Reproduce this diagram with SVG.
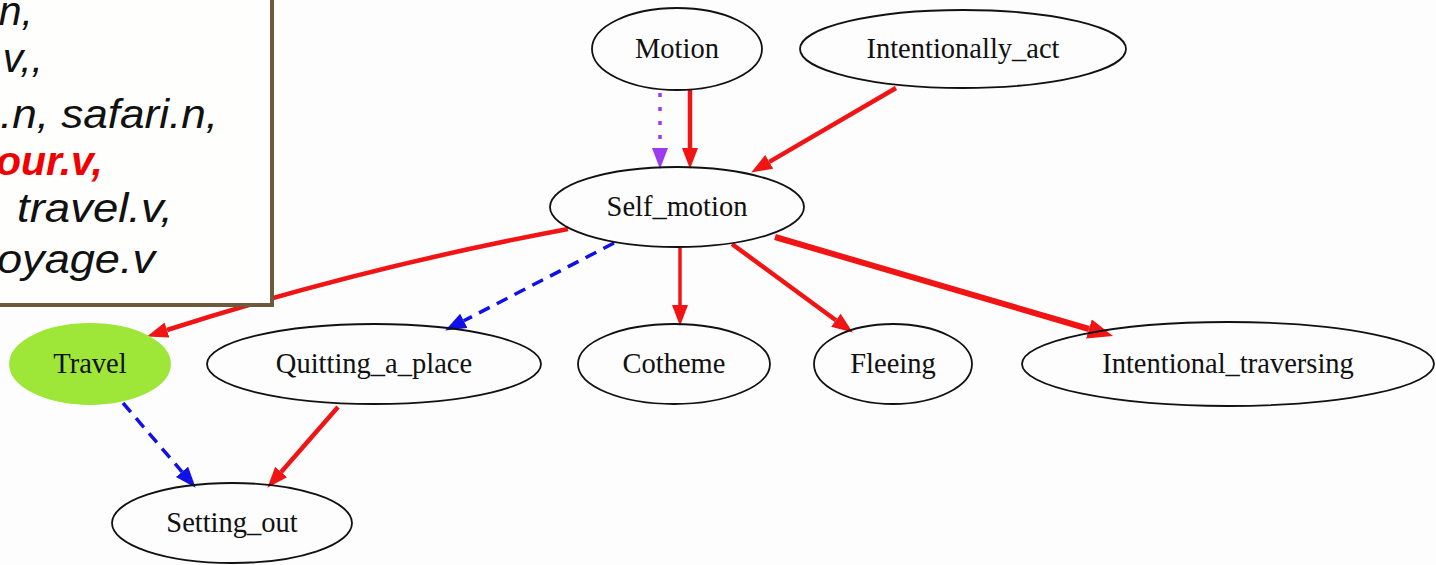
<svg xmlns="http://www.w3.org/2000/svg" width="1436" height="565" viewBox="0 0 1436 565">
  <style>
    .node ellipse { fill: none; stroke: #111; stroke-width: 1.8; }
    .node text { font-family: "Liberation Serif", "Times New Roman", serif; font-size: 28.5px; fill: #111; text-anchor: middle; }
    .red { fill: none; stroke: #f01414; stroke-width: 4.5; }
    .blue { fill: none; stroke: #1010e8; stroke-width: 3.5; stroke-dasharray: 12 8; }
    .purple { fill: none; stroke: #9b3cf0; stroke-width: 3.5; stroke-dasharray: 4 10; }
    .note text { font-family: "Liberation Sans", Arial, sans-serif; font-style: italic; font-size: 41px; fill: #111; text-anchor: end; }
  </style>
  <defs>
    <marker id="ahRed" markerUnits="userSpaceOnUse" markerWidth="24" markerHeight="18" refX="0" refY="8" orient="auto">
      <path d="M0,0 L21,8 L0,16 z" fill="#f01414"/>
    </marker>
    <marker id="ahRedWide" markerUnits="userSpaceOnUse" markerWidth="28" markerHeight="22" refX="0" refY="10" orient="auto">
      <path d="M0,0 L25,10 L0,20 z" fill="#f01414"/>
    </marker>
    <marker id="ahBlue" markerUnits="userSpaceOnUse" markerWidth="24" markerHeight="18" refX="0" refY="8" orient="auto">
      <path d="M0,0 L21,8 L0,16 z" fill="#1010e8"/>
    </marker>
    <marker id="ahPurple" markerUnits="userSpaceOnUse" markerWidth="24" markerHeight="18" refX="0" refY="8" orient="auto">
      <path d="M0,0 L21,8 L0,16 z" fill="#9b3cf0"/>
    </marker>
  </defs>

  <rect width="1436" height="565" fill="#fdfdfd"/>

  <g id="connectors">
    <path class="purple" d="M660,93 L660,148" marker-end="url(#ahPurple)"/>
    <path class="red" d="M690,90 L690,148" marker-end="url(#ahRed)"/>
    <path class="red" d="M896,88 L769.3,161.9" marker-end="url(#ahRed)"/>
    <path class="red" d="M568,229 Q360,268 167,330" marker-end="url(#ahRed)"/>
    <path class="blue" d="M614,243 L463.8,320.8" marker-end="url(#ahBlue)"/>
    <path class="red" style="stroke-width:3.5" d="M680,248 L680,305" marker-end="url(#ahRed)"/>
    <path class="red" d="M732,244 L835.9,320.2" marker-end="url(#ahRed)"/>
    <path class="red" style="stroke-width:6" d="M775,237 L1089,329" marker-end="url(#ahRedWide)"/>
    <path class="blue" d="M123,403 L182,471.8" marker-end="url(#ahBlue)"/>
    <path class="red" d="M338,407 L281.2,471.9" marker-end="url(#ahRed)"/>
  </g>

  <g id="node-motion" class="node">
    <ellipse cx="677" cy="49" rx="85" ry="41"/>
    <text x="677" y="58">Motion</text>
  </g>
  <g id="node-intentionally-act" class="node">
    <ellipse cx="963" cy="49" rx="163" ry="39"/>
    <text x="963" y="58">Intentionally_act</text>
  </g>
  <g id="node-self-motion" class="node">
    <ellipse cx="677" cy="207" rx="127" ry="40"/>
    <text x="677" y="216">Self_motion</text>
  </g>
  <g id="node-travel" class="node">
    <ellipse cx="90" cy="364" rx="80" ry="40" style="fill:#9ee637;stroke:#9ee637"/>
    <text x="90" y="373">Travel</text>
  </g>
  <g id="node-quitting-a-place" class="node">
    <ellipse cx="374" cy="364" rx="167" ry="40"/>
    <text x="374" y="373">Quitting_a_place</text>
  </g>
  <g id="node-cotheme" class="node">
    <ellipse cx="674" cy="364" rx="96" ry="40"/>
    <text x="674" y="373">Cotheme</text>
  </g>
  <g id="node-fleeing" class="node">
    <ellipse cx="893" cy="364" rx="79" ry="40"/>
    <text x="893" y="373">Fleeing</text>
  </g>
  <g id="node-intentional-traversing" class="node">
    <ellipse cx="1228" cy="364" rx="206" ry="42"/>
    <text x="1228" y="373">Intentional_traversing</text>
  </g>
  <g id="node-setting-out" class="node">
    <ellipse cx="232" cy="523" rx="120" ry="40"/>
    <text x="232" y="532">Setting_out</text>
  </g>

  <!-- lexical-unit callout, cut off at the left edge -->
  <g id="note" class="note">
    <rect x="-10" y="-10" width="282" height="315" fill="#fefefd" stroke="#6b5a3c" stroke-width="4"/>
    <text x="33" y="25">n,</text>
    <text x="43" y="72">v,,</text>
    <text x="218" y="128" textLength="218" lengthAdjust="spacingAndGlyphs">.n, safari.n,</text>
    <text x="103" y="175" style="fill:#f00000;font-weight:bold">our.v,</text>
    <text x="173" y="222" textLength="156" lengthAdjust="spacingAndGlyphs">travel.v,</text>
    <text x="155" y="273" textLength="158" lengthAdjust="spacingAndGlyphs">oyage.v</text>
  </g>
</svg>
